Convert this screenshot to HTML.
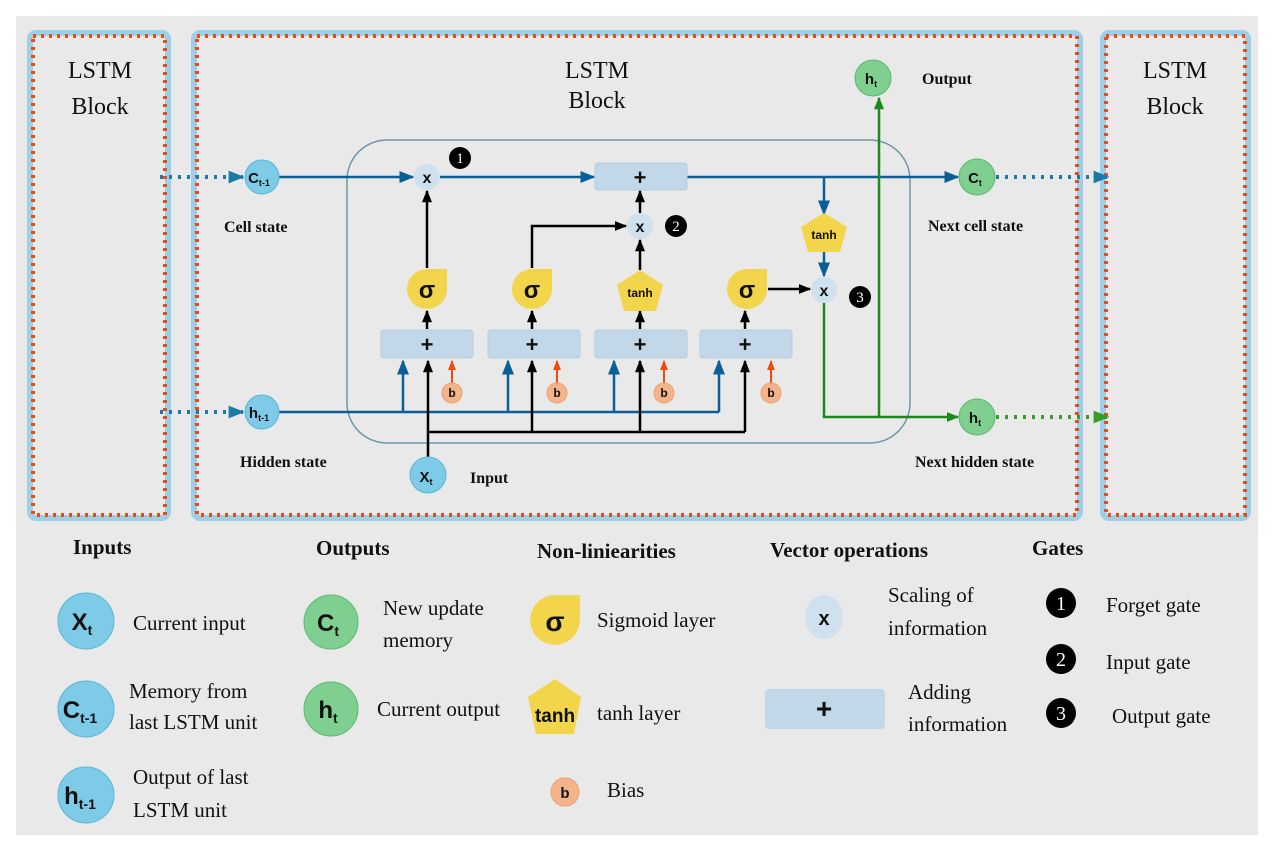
<!DOCTYPE html>
<html><head><meta charset="utf-8"><style>
html,body{margin:0;padding:0;background:#fff;}
svg{display:block;}
text{font-family:"Liberation Serif",serif;fill:#111;}
.s text, text.s{font-family:"Liberation Sans",sans-serif;font-weight:bold;}
text.w, .w text{fill:#fff;}
</style></head><body>
<svg width="1273" height="848" viewBox="0 0 1273 848" xmlns="http://www.w3.org/2000/svg">
<defs>
<marker id="ab" viewBox="0 0 10 10" refX="9" refY="5" markerWidth="6" markerHeight="6" orient="auto"><path d="M0,1 L10,5 L0,9z" fill="#0a5f96"/></marker>
<marker id="ak" viewBox="0 0 10 10" refX="9" refY="5" markerWidth="5" markerHeight="5" orient="auto"><path d="M0,1 L10,5 L0,9z" fill="#000"/></marker>
<marker id="ag" viewBox="0 0 10 10" refX="9" refY="5" markerWidth="5" markerHeight="5" orient="auto"><path d="M0,1 L10,5 L0,9z" fill="#1a8a1a"/></marker>
<marker id="ao" viewBox="0 0 10 10" refX="9" refY="5" markerWidth="5" markerHeight="5" orient="auto"><path d="M0,1 L10,5 L0,9z" fill="#f04a10"/></marker>
<marker id="abig" viewBox="0 0 10 10" refX="9" refY="5" markerWidth="4" markerHeight="4" orient="auto"><path d="M0,1 L10,5 L0,9z" fill="#1a7aa8"/></marker>
<marker id="agbig" viewBox="0 0 10 10" refX="9" refY="5" markerWidth="4" markerHeight="4" orient="auto"><path d="M0,1 L10,5 L0,9z" fill="#3a9a2a"/></marker>
<symbol id="sig" viewBox="-22 -22 44 44"><circle cx="0" cy="0" r="21" fill="#f2d54a"/><rect x="0" y="-21" width="21" height="21" fill="#f2d54a"/></symbol>
</defs>
<rect x="16" y="16" width="1242" height="819" fill="#e9e9e9"/>
<g fill="none">
<rect x="30" y="33" width="138" height="485" rx="6" stroke="#9ccfea" stroke-width="6"/>
<rect x="33" y="36" width="132" height="479" stroke="#f04a10" stroke-width="4" stroke-dasharray="3 5"/>
<rect x="194" y="33" width="886" height="485" rx="6" stroke="#9ccfea" stroke-width="6"/>
<rect x="197" y="36" width="880" height="479" stroke="#f04a10" stroke-width="4" stroke-dasharray="3 5"/>
<rect x="1103" y="33" width="145" height="485" rx="6" stroke="#9ccfea" stroke-width="6"/>
<rect x="1106" y="36" width="139" height="479" stroke="#f04a10" stroke-width="4" stroke-dasharray="3 5"/>
</g>
<g font-size="24" text-anchor="middle">
<text x="100" y="78">LSTM</text><text x="100" y="114">Block</text>
<text x="597" y="78">LSTM</text><text x="597" y="108">Block</text>
<text x="1175" y="78">LSTM</text><text x="1175" y="114">Block</text>
</g>
<rect x="347" y="140" width="563" height="303" rx="40" fill="none" stroke="#6a98a8" stroke-width="1.5"/>
<line x1="160" y1="177" x2="243" y2="177" stroke="#1a7aa8" stroke-width="4" stroke-dasharray="3 6" marker-end="url(#abig)"/>
<line x1="160" y1="412" x2="243" y2="412" stroke="#1a7aa8" stroke-width="4" stroke-dasharray="3 6" marker-end="url(#abig)"/>
<line x1="996" y1="177" x2="1108" y2="177" stroke="#1a7aa8" stroke-width="4" stroke-dasharray="3 6" marker-end="url(#abig)"/>
<line x1="996" y1="417" x2="1108" y2="417" stroke="#3a9a2a" stroke-width="4" stroke-dasharray="3 6" marker-end="url(#agbig)"/>
<g stroke="#0a5f96" stroke-width="2.5" fill="none">
<line x1="279" y1="177" x2="413" y2="177" marker-end="url(#ab)"/>
<line x1="440" y1="177" x2="594" y2="177" marker-end="url(#ab)"/>
<line x1="687" y1="177" x2="958" y2="177" marker-end="url(#ab)"/>
<line x1="824" y1="177" x2="824" y2="214" marker-end="url(#ab)"/>
<line x1="824" y1="250" x2="824" y2="276" marker-end="url(#ab)"/>
<line x1="279" y1="412" x2="719" y2="412"/>
<line x1="403" y1="412" x2="403" y2="361" marker-end="url(#ab)"/>
<line x1="508" y1="412" x2="508" y2="361" marker-end="url(#ab)"/>
<line x1="614" y1="412" x2="614" y2="361" marker-end="url(#ab)"/>
<line x1="719" y1="412" x2="719" y2="361" marker-end="url(#ab)"/>
</g>
<g stroke="#000" stroke-width="2.5" fill="none">
<line x1="428" y1="457" x2="428" y2="361" marker-end="url(#ak)"/>
<line x1="428" y1="432" x2="745" y2="432"/>
<line x1="532" y1="432" x2="532" y2="361" marker-end="url(#ak)"/>
<line x1="640" y1="432" x2="640" y2="361" marker-end="url(#ak)"/>
<line x1="745" y1="432" x2="745" y2="361" marker-end="url(#ak)"/>
<line x1="427" y1="329" x2="427" y2="311" marker-end="url(#ak)"/>
<line x1="532" y1="329" x2="532" y2="311" marker-end="url(#ak)"/>
<line x1="640" y1="329" x2="640" y2="311" marker-end="url(#ak)"/>
<line x1="745" y1="329" x2="745" y2="311" marker-end="url(#ak)"/>
<line x1="427" y1="268" x2="427" y2="191" marker-end="url(#ak)"/>
<polyline points="532,268 532,226 626,226" marker-end="url(#ak)"/>
<line x1="640" y1="270" x2="640" y2="240" marker-end="url(#ak)"/>
<line x1="640" y1="213" x2="640" y2="191" marker-end="url(#ak)"/>
<line x1="768" y1="289" x2="810" y2="289" marker-end="url(#ak)"/>
</g>
<g stroke="#f04a10" stroke-width="2" fill="none">
<line x1="452" y1="383" x2="452" y2="361" marker-end="url(#ao)"/>
<line x1="557" y1="383" x2="557" y2="361" marker-end="url(#ao)"/>
<line x1="664" y1="383" x2="664" y2="361" marker-end="url(#ao)"/>
<line x1="771" y1="383" x2="771" y2="361" marker-end="url(#ao)"/>
</g>
<g stroke="#1a8a1a" stroke-width="2.5" fill="none">
<polyline points="824,302 824,417 958,417" marker-end="url(#ag)"/>
<line x1="879" y1="417" x2="879" y2="98" marker-end="url(#ag)"/>
</g>
<g fill="#c2d8e8" stroke="#b4cde0">
<rect x="595" y="163" width="92" height="27" rx="3"/>
<rect x="381" y="330" width="92" height="28" rx="3"/>
<rect x="488" y="330" width="92" height="28" rx="3"/>
<rect x="595" y="330" width="92" height="28" rx="3"/>
<rect x="700" y="330" width="92" height="28" rx="3"/>
</g>
<g class="s" font-size="22" text-anchor="middle">
<text x="640" y="185">+</text><text x="427" y="352">+</text><text x="532" y="352">+</text><text x="640" y="352">+</text><text x="745" y="352">+</text>
</g>
<g fill="#cfe0ee"><circle cx="427" cy="177" r="13"/><circle cx="640" cy="226" r="13"/><circle cx="824" cy="290" r="13"/></g>
<g class="s" font-size="16" text-anchor="middle"><text x="427" y="183">x</text><text x="640" y="232">x</text><text x="824" y="296">x</text></g>
<g fill="#000"><circle cx="460" cy="158" r="11"/><circle cx="676" cy="226" r="11"/><circle cx="860" cy="297" r="11"/></g>
<g class="w" font-size="15" text-anchor="middle"><text x="460" y="163">1</text><text x="676" y="231">2</text><text x="860" y="302">3</text></g>
<use href="#sig" x="406" y="268" width="42" height="42"/>
<use href="#sig" x="511" y="268" width="42" height="42"/>
<use href="#sig" x="726" y="268" width="42" height="42"/>
<g class="s" font-size="24" text-anchor="middle"><text x="427" y="298">σ</text><text x="532" y="298">σ</text><text x="747" y="298">σ</text></g>
<polygon points="640,270 663,285 656,311 624,311 617,285" fill="#f2d54a"/>
<polygon points="824,213 847,227 840,252 808,252 801,227" fill="#f2d54a"/>
<g class="s" font-size="12" text-anchor="middle"><text x="640" y="297">tanh</text><text x="824" y="239">tanh</text></g>
<g fill="#f4b48a" stroke="#eba070"><circle cx="452" cy="393" r="10"/><circle cx="557" cy="393" r="10"/><circle cx="664" cy="393" r="10"/><circle cx="771" cy="393" r="10"/></g>
<g class="s" font-size="12" text-anchor="middle"><text x="452" y="397">b</text><text x="557" y="397">b</text><text x="664" y="397">b</text><text x="771" y="397">b</text></g>
<g fill="#7dcbe6" stroke="#5ab6d8"><circle cx="262" cy="177" r="17"/><circle cx="262" cy="412" r="17"/><circle cx="428" cy="475" r="18"/></g>
<g fill="#7fd090" stroke="#5cb870"><circle cx="977" cy="177" r="18"/><circle cx="977" cy="417" r="18"/><circle cx="873" cy="78" r="18"/></g>
<g class="s" font-size="15" text-anchor="middle">
<text x="259" y="183">C<tspan font-size="9" dy="3">t-1</tspan></text>
<text x="259" y="418">h<tspan font-size="9" dy="3">t-1</tspan></text>
<text x="426" y="482">X<tspan font-size="9" dy="3">t</tspan></text>
<text x="975" y="183">C<tspan font-size="9" dy="3">t</tspan></text>
<text x="975" y="423">h<tspan font-size="9" dy="3">t</tspan></text>
<text x="871" y="84">h<tspan font-size="9" dy="3">t</tspan></text>
</g>
<g font-size="16" font-weight="bold">
<text x="224" y="232">Cell state</text>
<text x="240" y="467">Hidden state</text>
<text x="470" y="483">Input</text>
<text x="922" y="84">Output</text>
<text x="928" y="231">Next cell state</text>
<text x="915" y="467">Next hidden state</text>
</g>
<g font-size="21" font-weight="bold">
<text x="73" y="554">Inputs</text>
<text x="316" y="555">Outputs</text>
<text x="537" y="558">Non-liniearities</text>
<text x="770" y="557">Vector operations</text>
<text x="1032" y="555">Gates</text>
</g>
<g fill="#7dcbe6" stroke="#5ab6d8"><circle cx="86" cy="621" r="28"/><circle cx="86" cy="709" r="28"/><circle cx="86" cy="795" r="28"/></g>
<g fill="#7fd090" stroke="#5cb870"><circle cx="331" cy="622" r="27"/><circle cx="331" cy="709" r="27"/></g>
<g class="s" font-size="24" text-anchor="middle">
<text x="82" y="630">X<tspan font-size="14" dy="5">t</tspan></text>
<text x="80" y="718">C<tspan font-size="14" dy="5">t-1</tspan></text>
<text x="80" y="804">h<tspan font-size="14" dy="5">t-1</tspan></text>
<text x="328" y="631">C<tspan font-size="14" dy="5">t</tspan></text>
<text x="328" y="718">h<tspan font-size="14" dy="5">t</tspan></text>
</g>
<use href="#sig" x="529" y="594" width="52" height="52"/>
<text class="s" x="555" y="631" font-size="28" text-anchor="middle">σ</text>
<polygon points="555,679 581,697 574,734 536,734 528,697" fill="#f2d54a"/>
<text class="s" x="555" y="722" font-size="19" text-anchor="middle">tanh</text>
<circle cx="565" cy="792" r="14" fill="#f4b48a" stroke="#eba070"/>
<text class="s" x="565" y="798" font-size="15" text-anchor="middle">b</text>
<ellipse cx="824" cy="617" rx="19" ry="22" fill="#cfe0ee"/>
<text class="s" x="824" y="625" font-size="20" text-anchor="middle">x</text>
<rect x="765" y="689" width="120" height="40" rx="4" fill="#c2d8e8"/>
<text class="s" x="824" y="718" font-size="28" text-anchor="middle">+</text>
<g fill="#000"><circle cx="1061" cy="603" r="15"/><circle cx="1061" cy="659" r="15"/><circle cx="1061" cy="713" r="15"/></g>
<g class="w" font-size="20" text-anchor="middle"><text x="1061" y="610">1</text><text x="1061" y="666">2</text><text x="1061" y="720">3</text></g>
<g font-size="21">
<text x="133" y="630">Current input</text>
<text x="129" y="698">Memory from</text><text x="129" y="729">last LSTM unit</text>
<text x="133" y="784">Output of last</text><text x="133" y="817">LSTM unit</text>
<text x="383" y="615">New update</text><text x="383" y="647">memory</text>
<text x="377" y="716">Current output</text>
<text x="597" y="627">Sigmoid layer</text>
<text x="597" y="720">tanh layer</text>
<text x="607" y="797">Bias</text>
<text x="888" y="602">Scaling of</text><text x="888" y="635">information</text>
<text x="908" y="699">Adding</text><text x="908" y="731">information</text>
<text x="1106" y="612">Forget gate</text>
<text x="1106" y="669">Input gate</text>
<text x="1112" y="723">Output gate</text>
</g>
</svg>
</body></html>
